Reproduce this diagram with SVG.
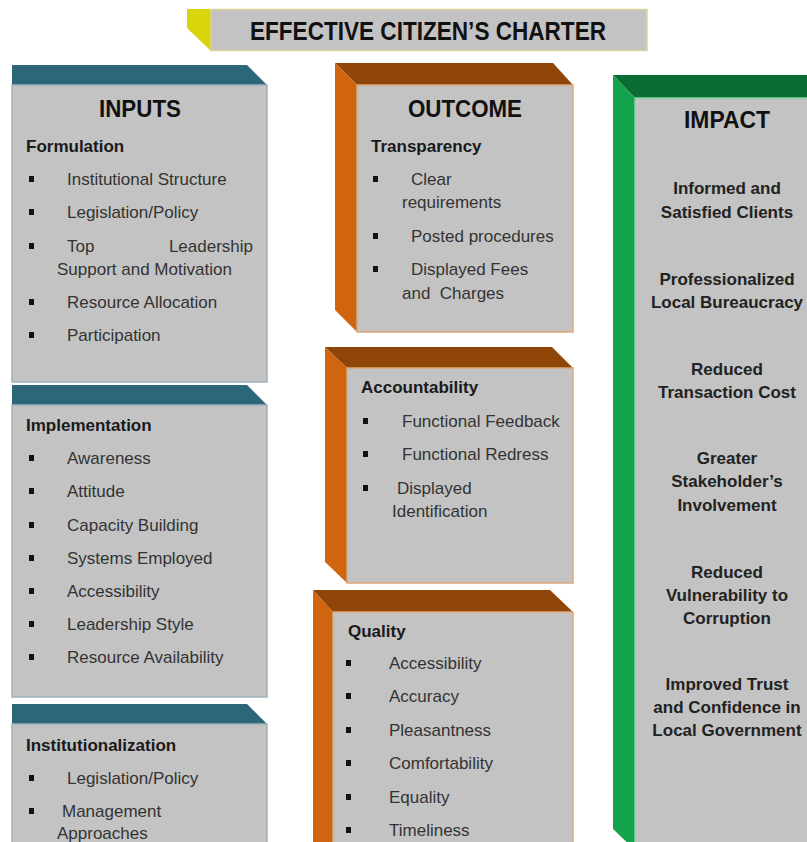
<svg xmlns="http://www.w3.org/2000/svg" width="807" height="842" viewBox="0 0 807 842">
<style>
.face{fill:#c3c3c3}
.inface{fill:#c3c3c3;stroke:#9fb3bb;stroke-width:1.5}
.outface{fill:#c3c3c3;stroke:#e0a878;stroke-width:1.5}
.impface{fill:#c3c3c3;stroke:#7fd6a0;stroke-width:1.5}
.teal{fill:#2c6678}
.otop{fill:#8f4608}
.oleft{fill:#d1650f}
.gtop{fill:#0a6c32}
.gleft{fill:#12a34b}
text{font-family:"Liberation Sans",Arial,sans-serif}
.h1{font-size:24px;font-weight:bold;fill:#111;text-anchor:middle}
.h2{font-size:17px;font-weight:bold;fill:#1a1a1a}
.it{font-size:17px;fill:#333}
.imp{font-size:17px;font-weight:bold;fill:#222;text-anchor:middle}
.b{fill:#111}
</style>
<rect width="807" height="842" fill="#ffffff"/>

<g id="title">
  <polygon points="187,9 211,9 211,51 187,28" fill="#d9d50a"/>
  <rect x="211" y="9.5" width="436" height="41" fill="#c3c3c3" stroke="#d8d49a" stroke-width="1.5"/>
  <text x="428" y="40" font-size="25" font-weight="bold" fill="#111" text-anchor="middle" textLength="356" lengthAdjust="spacingAndGlyphs">EFFECTIVE CITIZEN’S CHARTER</text>
</g>

<g id="inputs-formulation">
  <polygon class="teal" points="12,65 247,65 267,85 12,85"/>
  <rect class="inface" x="12" y="85" width="255" height="297"/>
  <text class="h1" x="140" y="117" textLength="82" lengthAdjust="spacingAndGlyphs">INPUTS</text>
  <text class="h2" x="26" y="152">Formulation</text>
  <rect class="b" x="29" y="176" width="5" height="6"/>
  <text class="it" x="67" y="185">Institutional Structure</text>
  <rect class="b" x="29" y="209" width="5" height="6"/>
  <text class="it" x="67" y="218">Legislation/Policy</text>
  <rect class="b" x="29" y="243" width="5" height="6"/>
  <text class="it" x="67" y="252">Top</text>
  <text class="it" x="253" y="252" text-anchor="end">Leadership</text>
  <text class="it" x="57" y="275">Support and Motivation</text>
  <rect class="b" x="29" y="299" width="5" height="6"/>
  <text class="it" x="67" y="308">Resource Allocation</text>
  <rect class="b" x="29" y="332" width="5" height="6"/>
  <text class="it" x="67" y="341">Participation</text>
</g>

<g id="inputs-implementation">
  <polygon class="teal" points="12,385 247,385 267,405 12,405"/>
  <rect class="inface" x="12" y="405" width="255" height="292"/>
  <text class="h2" x="26" y="431">Implementation</text>
  <rect class="b" x="29" y="455" width="5" height="6"/>
  <text class="it" x="67" y="464">Awareness</text>
  <rect class="b" x="29" y="488" width="5" height="6"/>
  <text class="it" x="67" y="497">Attitude</text>
  <rect class="b" x="29" y="522" width="5" height="6"/>
  <text class="it" x="67" y="531">Capacity Building</text>
  <rect class="b" x="29" y="555" width="5" height="6"/>
  <text class="it" x="67" y="564">Systems Employed</text>
  <rect class="b" x="29" y="588" width="5" height="6"/>
  <text class="it" x="67" y="597">Accessibility</text>
  <rect class="b" x="29" y="621" width="5" height="6"/>
  <text class="it" x="67" y="630">Leadership Style</text>
  <rect class="b" x="29" y="654" width="5" height="6"/>
  <text class="it" x="67" y="663">Resource Availability</text>
</g>

<g id="inputs-institutionalization">
  <polygon class="teal" points="12,704 247,704 267,724 12,724"/>
  <rect class="inface" x="12" y="724" width="255" height="130"/>
  <text class="h2" x="26" y="751">Institutionalization</text>
  <rect class="b" x="29" y="775" width="5" height="6"/>
  <text class="it" x="67" y="784">Legislation/Policy</text>
  <rect class="b" x="29" y="808" width="5" height="6"/>
  <text class="it" x="62" y="817">Management</text>
  <text class="it" x="57" y="839">Approaches</text>
</g>

<g id="outcome-transparency">
  <polygon class="otop" points="335,63 553,63 573,85 357,85"/>
  <polygon class="oleft" points="335,63 357,85 357,332 335,310"/>
  <rect class="outface" x="357" y="85" width="216" height="247"/>
  <text class="h1" x="465" y="117" textLength="114" lengthAdjust="spacingAndGlyphs">OUTCOME</text>
  <text class="h2" x="371" y="152">Transparency</text>
  <rect class="b" x="373" y="176" width="5" height="6"/>
  <text class="it" x="411" y="185">Clear</text>
  <text class="it" x="402" y="208">requirements</text>
  <rect class="b" x="373" y="233" width="5" height="6"/>
  <text class="it" x="411" y="242">Posted procedures</text>
  <rect class="b" x="373" y="266" width="5" height="6"/>
  <text class="it" x="411" y="275">Displayed Fees</text>
  <text class="it" x="402" y="299" xml:space="preserve">and  Charges</text>
</g>

<g id="outcome-accountability">
  <polygon class="otop" points="325,347 552,347 573,368 347,368"/>
  <polygon class="oleft" points="325,347 347,368 347,583 325,562"/>
  <rect class="outface" x="347" y="368" width="226" height="215"/>
  <text class="h2" x="361" y="393">Accountability</text>
  <rect class="b" x="363" y="418" width="5" height="6"/>
  <text class="it" x="402" y="427">Functional Feedback</text>
  <rect class="b" x="363" y="451" width="5" height="6"/>
  <text class="it" x="402" y="460">Functional Redress</text>
  <rect class="b" x="363" y="485" width="5" height="6"/>
  <text class="it" x="397" y="494">Displayed</text>
  <text class="it" x="392" y="517">Identification</text>
</g>

<g id="outcome-quality">
  <polygon class="otop" points="313,590 550,590 573,612 333,612"/>
  <polygon class="oleft" points="313,590 333,612 333,862 313,842"/>
  <rect class="outface" x="333" y="612" width="240" height="250"/>
  <text class="h2" x="348" y="637">Quality</text>
  <rect class="b" x="346" y="660" width="5" height="6"/>
  <text class="it" x="389" y="669">Accessibility</text>
  <rect class="b" x="346" y="693" width="5" height="6"/>
  <text class="it" x="389" y="702">Accuracy</text>
  <rect class="b" x="346" y="727" width="5" height="6"/>
  <text class="it" x="389" y="736">Pleasantness</text>
  <rect class="b" x="346" y="760" width="5" height="6"/>
  <text class="it" x="389" y="769">Comfortability</text>
  <rect class="b" x="346" y="794" width="5" height="6"/>
  <text class="it" x="389" y="803">Equality</text>
  <rect class="b" x="346" y="827" width="5" height="6"/>
  <text class="it" x="389" y="836">Timeliness</text>
</g>

<g id="impact">
  <polygon class="gtop" points="613,75 830,75 830,98 635,98"/>
  <polygon class="gleft" points="613,75 635,98 635,850 613,829"/>
  <rect class="impface" x="635" y="98" width="200" height="760"/>
  <text class="h1" x="727" y="128" textLength="86" lengthAdjust="spacingAndGlyphs">IMPACT</text>
  <text class="imp" x="727" y="194">Informed and</text>
  <text class="imp" x="727" y="218">Satisfied Clients</text>
  <text class="imp" x="727" y="285">Professionalized</text>
  <text class="imp" x="727" y="308">Local Bureaucracy</text>
  <text class="imp" x="727" y="375">Reduced</text>
  <text class="imp" x="727" y="398">Transaction Cost</text>
  <text class="imp" x="727" y="464">Greater</text>
  <text class="imp" x="727" y="487">Stakeholder’s</text>
  <text class="imp" x="727" y="511">Involvement</text>
  <text class="imp" x="727" y="578">Reduced</text>
  <text class="imp" x="727" y="601">Vulnerability to</text>
  <text class="imp" x="727" y="624">Corruption</text>
  <text class="imp" x="727" y="690">Improved Trust</text>
  <text class="imp" x="727" y="713">and Confidence in</text>
  <text class="imp" x="727" y="736">Local Government</text>
</g>

<g id="connectors"></g>
</svg>
